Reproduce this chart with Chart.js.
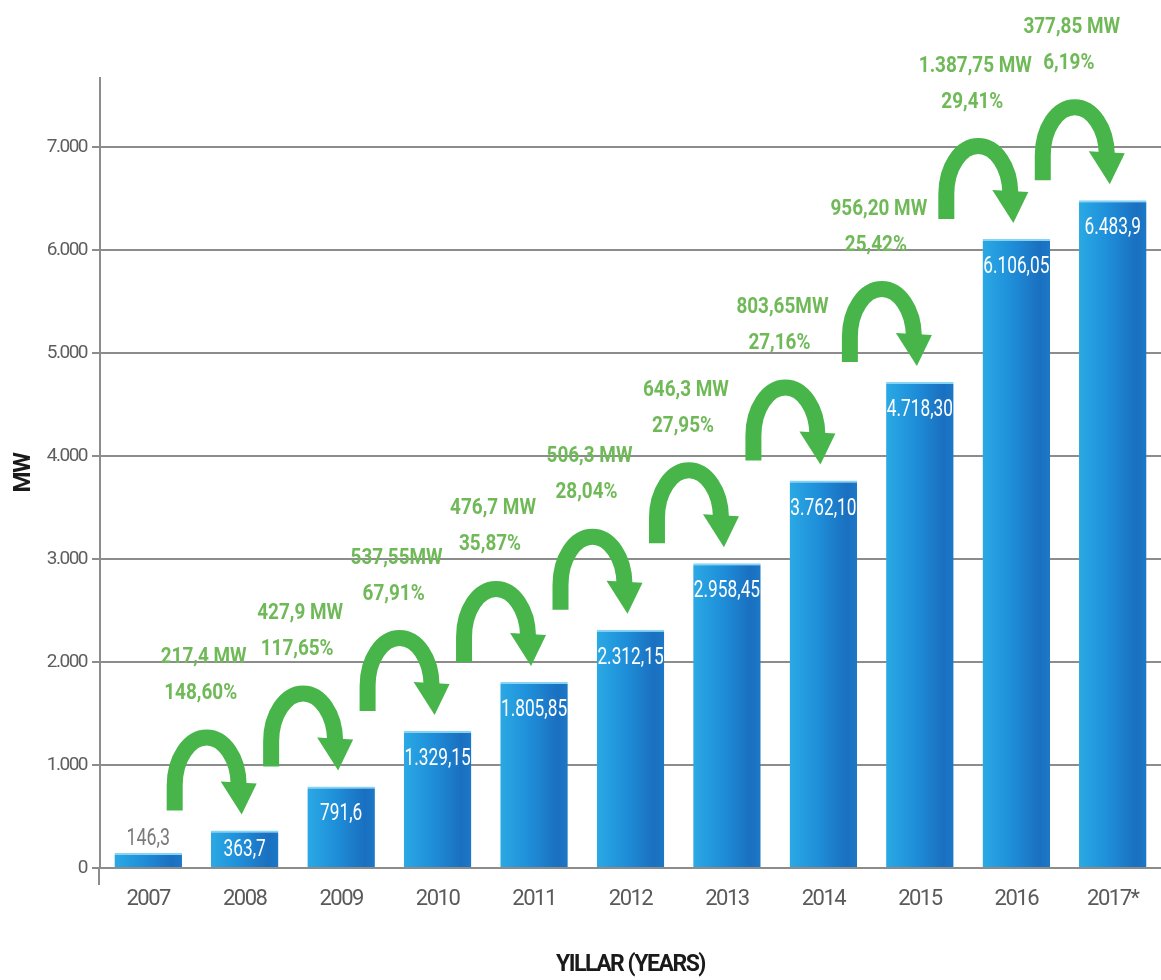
<!DOCTYPE html>
<html>
<head>
<meta charset="utf-8">
<script src="https://cdn.jsdelivr.net/npm/chart.js@4/dist/chart.umd.min.js"></script>
<style>
  html, body { margin: 0; padding: 0; background: #ffffff; }
  canvas { display: block; }
</style>
</head>
<body>
<canvas id="c" width="1161" height="980"></canvas>
<script>
// ---- data ----
const years = ['2007', '2008', '2009', '2010', '2011', '2012', '2013', '2014', '2015', '2016', '2017*'];
const capacityMW = [146.3, 363.7, 791.6, 1329.15, 1805.85, 2312.15, 2958.45, 3762.10, 4718.30, 6106.05, 6483.9];
const capacityLabels = ['146,3', '363,7', '791,6', '1.329,15', '1.805,85', '2.312,15', '2.958,45', '3.762,10', '4.718,30', '6.106,05', '6.483,9'];
const increaseLabels = ['217,4 MW', '427,9 MW', '537,55MW', '476,7 MW', '506,3 MW', '646,3 MW', '803,65MW', '956,20 MW', '1.387,75 MW', '377,85 MW'];
const growthLabels = ['148,60%', '117,65%', '67,91%', '35,87%', '28,04%', '27,95%', '27,16%', '25,42%', '29,41%', '6,19%'];
const yTickValues = [0, 1000, 2000, 3000, 4000, 5000, 6000, 7000];
const yMax = 7670;

const FONT = 'Roboto, "Liberation Sans Narrow", "Liberation Sans", sans-serif';
const GREEN = '#47b54a';
const GREEN_TEXT = '#70b958';

function fmtThousands(v) {
  const s = String(Math.round(v));
  return s.replace(/\B(?=(\d{3})+(?!\d))/g, '.');
}

function barGradient(ctx) {
  const chart = ctx.chart;
  const xs = chart.scales && chart.scales.x;
  if (!xs || ctx.dataIndex === undefined || !chart.chartArea) return '#1e88d6';
  const c = xs.getPixelForValue(ctx.dataIndex);
  const half = (xs.width / years.length) * 0.7 / 2;
  const g = chart.ctx.createLinearGradient(c - half, 0, c + half, 0);
  g.addColorStop(0, '#2aa9e4');
  g.addColorStop(0.4, '#1f90da');
  g.addColorStop(0.85, '#1a70c0');
  g.addColorStop(1, '#1c78c6');
  return g;
}

// draw horizontally condensed text
function condensedText(ctx, text, x, y, sx) {
  ctx.save();
  ctx.translate(x, y);
  ctx.scale(sx, 1);
  ctx.fillText(text, 0, 0);
  ctx.restore();
}

const overlay = {
  id: 'overlay',
  beforeLayout(chart) { chart.ctx.letterSpacing = '-1.5px'; },
  beforeDraw(chart) { chart.ctx.letterSpacing = '-1.5px'; },
  afterDatasetsDraw(chart) {
    const ctx = chart.ctx;
    const meta = chart.getDatasetMeta(0);
    const els = meta.data;
    const ys = chart.scales.y;
    ctx.save();
    ctx.letterSpacing = '0px';
    // small extension of the vertical axis below zero
    ctx.strokeStyle = '#8c8c8c';
    ctx.lineWidth = 2;
    ctx.beginPath();
    ctx.moveTo(ys.right - 1, ys.bottom);
    ctx.lineTo(ys.right - 1, ys.bottom + 17);
    ctx.stroke();
    // value labels
    els.forEach((el, i) => {
      const top = el.y, base = el.base;
      ctx.font = '24px ' + FONT;
      ctx.textAlign = 'center';
      if (base - top < 30) {
        ctx.fillStyle = '#7a7a7a';
        ctx.textBaseline = 'bottom';
        condensedText(ctx, capacityLabels[i], el.x, top - 2, 0.74);
      } else {
        ctx.fillStyle = '#ffffff';
        ctx.textBaseline = 'middle';
        const y = Math.min(top + 28, (top + base) / 2 + 1);
        condensedText(ctx, capacityLabels[i], el.x, y, 0.72);
      }
    });
    // arrows + growth labels
    for (let i = 1; i < els.length; i++) {
      const el = els[i];
      const tx = el.x - 4;
      const ty = el.y - 18;
      const rx = 32, ry = 48, w = 16;
      const cx = tx - 34, cy = ty - 27;
      ctx.strokeStyle = GREEN;
      ctx.fillStyle = GREEN;
      ctx.lineWidth = w;
      ctx.lineCap = 'butt';
      ctx.beginPath();
      ctx.moveTo(cx - rx, ty - 2);
      ctx.lineTo(cx - rx, cy);
      ctx.ellipse(cx, cy, rx, ry, 0, Math.PI, 2 * Math.PI - 0.02);
      ctx.stroke();
      ctx.beginPath();
      ctx.moveTo(cx + rx - 18, cy - 4);
      ctx.lineTo(cx + rx + 18, cy - 2);
      ctx.lineTo(tx + 1, ty + 2);
      ctx.closePath();
      ctx.fill();
      const peak = cy - ry - w / 2;
      ctx.fillStyle = GREEN_TEXT;
      ctx.font = 'bold 22px ' + FONT;
      ctx.textAlign = 'center';
      ctx.textBaseline = 'middle';
      condensedText(ctx, increaseLabels[i - 1], cx - 3, peak - 72, 0.86);
      condensedText(ctx, growthLabels[i - 1], cx - 6, peak - 36, 0.86);
    }
    ctx.restore();
  }
};

new Chart(document.getElementById('c'), {
  type: 'bar',
  data: {
    labels: years,
    datasets: [{
      data: capacityMW,
      backgroundColor: barGradient,
      borderColor: '#86d3f4',
      borderWidth: { top: 2, left: 0, right: 0, bottom: 0 },
      borderSkipped: 'start',
      barPercentage: 0.7,
      categoryPercentage: 1.0
    }]
  },
  options: {
    responsive: false,
    devicePixelRatio: 1,
    animation: false,
    layout: { padding: { top: 78, right: 0, bottom: 0, left: 0 } },
    plugins: {
      legend: { display: false },
      tooltip: { enabled: false },
      title: { display: false }
    },
    scales: {
      x: {
        grid: { display: true, drawOnChartArea: false, drawTicks: false },
        border: { display: true, color: '#8c8c8c', width: 2 },
        ticks: {
          color: '#5a5a5a',
          font: { family: FONT, size: 22 },
          padding: 18,
          maxRotation: 0,
          autoSkip: false
        },
        title: {
          display: true,
          text: 'YILLAR (YEARS)',
          color: '#1a1a1a',
          font: { family: FONT, size: 23, weight: 'bold' },
          padding: { top: 0, bottom: 1 }
        },
        afterFit(scale) { scale.height = 112; }
      },
      y: {
        min: 0,
        max: yMax,
        ticks: {
          color: '#5e5e5e',
          font: { family: FONT, size: 19 },
          padding: 5,
          autoSkip: false,
          callback: (v) => fmtThousands(v)
        },
        afterBuildTicks(scale) {
          scale.ticks = yTickValues.map(v => ({ value: v }));
        },
        grid: { color: '#8c8c8c', lineWidth: 2, tickLength: 8, drawTicks: true },
        border: { display: true, color: '#8c8c8c', width: 2 },
        title: {
          display: true,
          text: 'MW',
          color: '#1a1a1a',
          font: { family: FONT, size: 24, weight: 'bold' },
          padding: { top: 10, bottom: 0 }
        },
        afterFit(scale) { scale.width = 100; }
      }
    }
  },
  plugins: [overlay]
});
</script>
</body>
</html>
